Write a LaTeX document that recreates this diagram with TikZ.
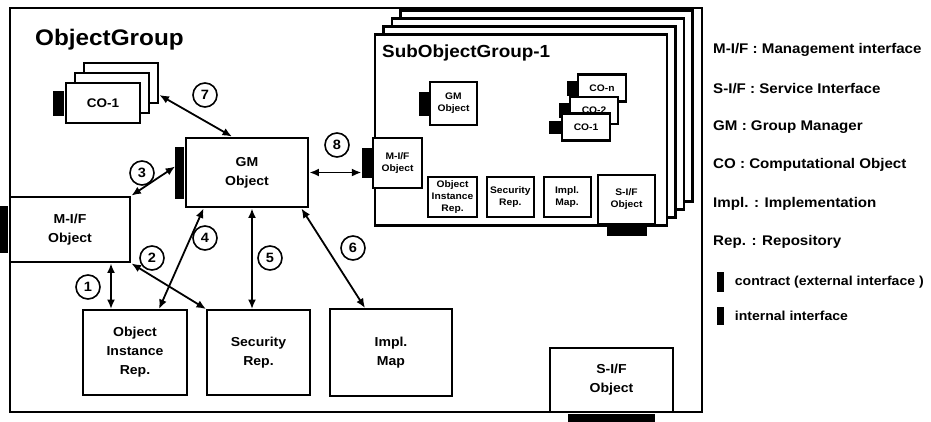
\documentclass[tikz,border=0pt]{standalone}
\usepackage{fontspec}
\setmainfont{Liberation Sans}[FakeStretch=1.08]
\usetikzlibrary{arrows.meta,positioning}
\begin{document}
\begin{tikzpicture}[
  x=1pt, y=-1pt,
  grpframe/.style={draw, line width=2.8pt, inner sep=0pt},
  layer/.style={draw, fill=white, line width=2.6pt, inner sep=0pt, minimum width=292pt,
                minimum height=191pt, anchor=north west},
  box/.style={draw, fill=white, line width=2.9pt, align=center, inner sep=0pt,
              font=\bfseries\fontsize{13}{19}\selectfont},
  rep/.style={box, line width=2pt},
  cobox/.style={box, font=\bfseries\fontsize{12.5}{15}\selectfont, minimum width=74pt, minimum height=40pt},
  sbox/.style={draw, fill=white, line width=1.8pt, align=center, inner sep=0pt,
               font=\bfseries\fontsize{9.5}{12}\selectfont},
  sco/.style={sbox, line width=2.2pt, minimum width=48pt, minimum height=27pt},
  ctr/.style={fill=black, inner sep=0pt},
  numc/.style={circle, draw, line width=1.6pt, minimum size=24pt, inner sep=0pt,
               font=\bfseries\fontsize{13.5}{16}\selectfont},
  leg/.style={anchor=west, inner sep=0pt, font=\bfseries\fontsize{14}{16}\selectfont},
  arr/.style={{Latex[length=9.5pt,width=8pt]}-{Latex[length=9.5pt,width=8pt]}, line width=1.8pt}
]
\useasboundingbox (0,0) rectangle (931,421);

\node[grpframe, minimum width=692pt, minimum height=404pt] (grp) at (356,210) {};
\node[anchor=base west, inner sep=0pt, font=\bfseries\fontsize{22.5}{26}\selectfont] (grpt) at (35,45) {ObjectGroup};

\node[layer] (sg4) at (399,9) {};
\node[layer] (sg3) at ([shift={(-8.5,8)}]sg4.north west) {};
\node[layer] (sg2) at ([shift={(-8.5,8)}]sg3.north west) {};
\node[layer] (sg1) at ([shift={(-8.5,8)}]sg2.north west) {};
\node[anchor=base west, inner sep=0pt, font=\bfseries\fontsize{17.5}{20}\selectfont] (sgt) at (382,57) {SubObjectGroup-1};

\node[sbox, line width=2.2pt, minimum width=47pt, minimum height=43pt] (sgm) at (453.5,103.5) {GM\\Object};
\node[ctr, minimum width=10pt, minimum height=24pt, anchor=east] (sgmc) at (sgm.west) {};

\node[sco] (sco3) at (602,88) {CO-n};
\node[ctr, minimum width=10pt, minimum height=15pt, anchor=east] (sco3c) at (sco3.west) {};
\node[sco] (sco2) at (594,110.5) {CO-2};
\node[ctr, minimum width=10pt, minimum height=15pt, anchor=east] (sco2c) at (sco2.west) {};
\node[sco] (sco1) at (586,127) {CO-1};
\node[ctr, minimum width=12pt, minimum height=13pt, anchor=east] (sco1c) at (sco1.west) {};

\node[sbox, line width=2.4pt, minimum width=49pt, minimum height=50pt] (smif) at (397.5,163) {M-I/F\\Object};
\node[ctr, minimum width=10pt, minimum height=30pt, anchor=east] (smifc) at (smif.west) {};

\node[sbox, minimum width=49pt, minimum height=40pt] (soir) at (452.5,197) {Object\\Instance\\Rep.};
\node[sbox, minimum width=47pt, minimum height=40pt, right=8pt of soir] (ssec) {Security\\Rep.};
\node[sbox, minimum width=47pt, minimum height=40pt, right=8pt of ssec] (simp) {Impl.\\Map.};
\node[sbox, line width=2.4pt, minimum width=57pt, minimum height=49pt] (ssif) at (626.5,199.5) {S-I/F\\Object};
\node[ctr, minimum width=40pt, minimum height=11pt, anchor=north] (ssifc) at (ssif.south) {};

\node[cobox] (co3) at (121,83) {};
\node[cobox] (co2) at (112,93) {};
\node[cobox] (co1) at (103,103) {CO-1};
\node[ctr, minimum width=11pt, minimum height=25pt, anchor=east] (co1c) at (co1.west) {};

\node[box, minimum width=122pt, minimum height=69pt] (gm) at (247,172.5) {GM\\Object};
\node[ctr, minimum width=9pt, minimum height=52pt, anchor=east] (gmc) at (gm.west) {};

\node[box, minimum width=120pt, minimum height=65pt] (mif) at (70,229.5) {M-I/F\\Object};
\node[ctr, minimum width=9pt, minimum height=47pt, anchor=east] (mifc) at (mif.west) {};

\node[rep, minimum width=104pt, minimum height=85pt] (oir) at (135,352.5) {Object\\Instance\\Rep.};
\node[rep, minimum width=103pt, minimum height=85pt, right=18pt of oir] (sec) {Security\\Rep.};
\node[rep, minimum width=122pt, minimum height=87pt, right=18pt of sec] (impl) {Impl.\\Map};

\node[box, minimum width=123pt, minimum height=64pt] (sif) at (611.5,380) {S-I/F\\Object};
\node[ctr, minimum width=87pt, minimum height=9pt, anchor=north] (sifc) at (sif.south) {};

\node[numc] (n1) at (88,287) {1};
\node[numc] (n2) at (152,258) {2};
\node[numc] (n3) at (142,173) {3};
\node[numc] (n4) at (205,238) {4};
\node[numc] (n5) at (270,258) {5};
\node[numc] (n6) at (353,248) {6};
\node[numc] (n7) at (205,95) {7};
\node[numc] (n8) at (337,145) {8};

\draw[arr] ([xshift=29pt]oir.north west) -- ([xshift=29pt]oir.north west |- mif.south);
\draw[arr] (mif.south east) -- (sec.north west);
\draw[arr] ([yshift=6pt]gmc.west) -- (mif.north east);
\draw[arr] ([xshift=19pt]gm.south west) -- ([xshift=-29pt]oir.north east);
\draw[arr] ([xshift=5pt]gm.south) -- ([xshift=5pt]gm.south |- sec.north);
\draw[arr] ([xshift=-8pt]gm.south east) -- ([xshift=36pt]impl.north west);
\draw[arr] ([yshift=-12pt]co3.east) -- ([xshift=-15pt]gm.north);
\draw[arr] (gm.east) -- (gm.east -| smifc.west);

\node[leg] (l1) at (713,50) {M-I/F : Management interface};
\node[leg, below=38.4pt of l1.west, anchor=west] (l2) {S-I/F : Service Interface};
\node[leg, below=38.4pt of l2.west, anchor=west] (l3) {GM : Group Manager};
\node[leg, below=38.4pt of l3.west, anchor=west] (l4) {CO : Computational Object};
\node[leg, below=38.4pt of l4.west, anchor=west] (l5) {Impl. : Implementation};
\node[leg, below=38.4pt of l5.west, anchor=west] (l6) {Rep. : Repository};
\node[ctr, minimum width=7pt, minimum height=20pt] (lc) at (720,282) {};
\node[leg, right=11pt of lc, font=\bfseries\fontsize{13}{16}\selectfont] (l7) {contract (external interface )};
\node[ctr, minimum width=7pt, minimum height=18pt] (li) at (720,316) {};
\node[leg, right=11pt of li, font=\bfseries\fontsize{13}{16}\selectfont] (l8) {internal interface};
\end{tikzpicture}
\end{document}
